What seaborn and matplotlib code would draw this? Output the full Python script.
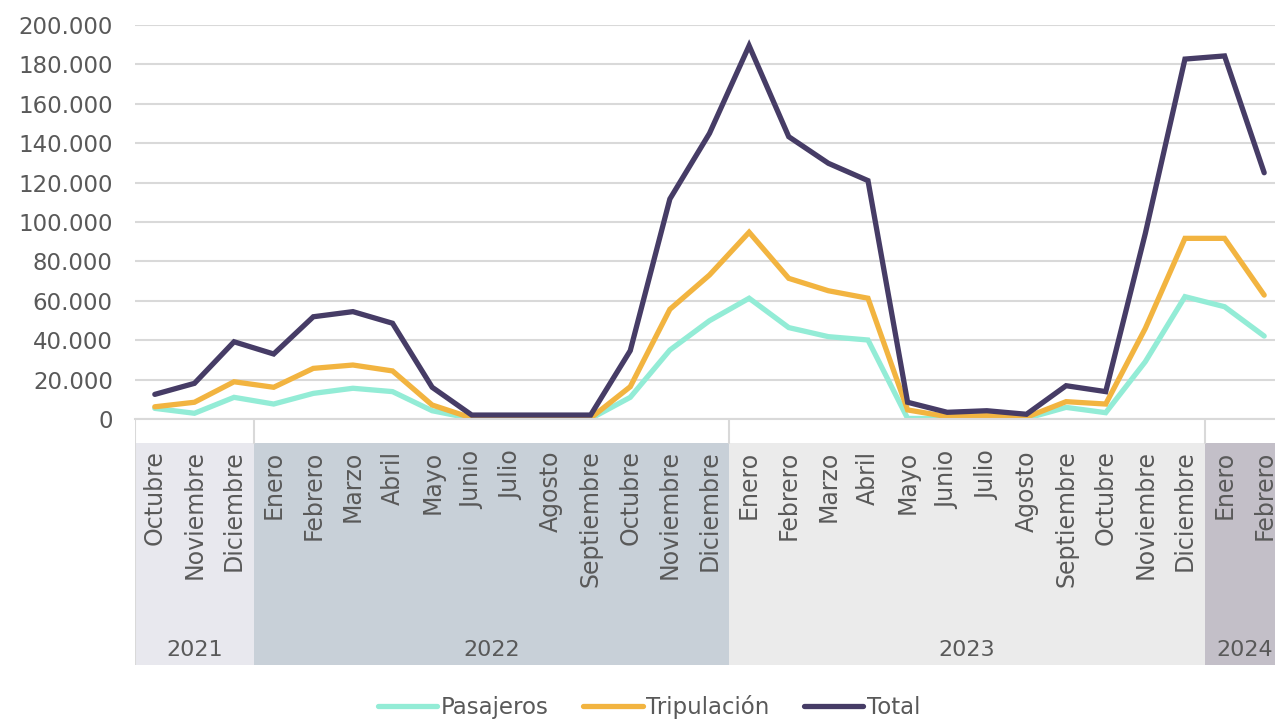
import matplotlib
matplotlib.use("Agg")
import matplotlib.pyplot as plt
import matplotlib.ticker as ticker
import numpy as np
import pandas as pd
import seaborn as sns

# ─── Data ─────────────────────────────────────────────────────────────────────
MONTHS = ["Octubre", "Noviembre", "Diciembre",
          "Enero", "Febrero", "Marzo", "Abril", "Mayo", "Junio", "Julio",
          "Agosto", "Septiembre", "Octubre", "Noviembre", "Diciembre",
          "Enero", "Febrero", "Marzo", "Abril", "Mayo", "Junio", "Julio",
          "Agosto", "Septiembre", "Octubre", "Noviembre", "Diciembre",
          "Enero", "Febrero"]
YEARS = ["2021", "2022", "2023", "2024"]
YEAR_SPANS = [(0, 2), (3, 14), (15, 26), (27, 28)]

pasajeros = [5400, 2900, 11000, 7600, 13000, 15600, 13900, 4200, 200, 200,
             200, 200, 11000, 35000, 49900, 61300, 46400, 41800, 40100, 300,
             200, 500, 300, 5900, 3200, 29100, 62100, 57000, 42100]
tripulacion = [6200, 8500, 18900, 16100, 25700, 27400, 24400, 7100, 500, 500,
               500, 500, 16400, 55700, 73100, 94800, 71400, 65100, 61300, 4600,
               1200, 1700, 900, 8800, 7600, 46000, 91700, 91700, 62900]
total = [12500, 18100, 39200, 33000, 51900, 54500, 48600, 16100, 2000, 2000,
         2000, 2000, 34700, 111700, 145000, 189500, 143300, 129800, 121000, 8500,
         3400, 4200, 2400, 16900, 13900, 94200, 182700, 184300, 125000]

SERIES = ["Pasajeros", "Tripulación", "Total"]

# ─── Style ────────────────────────────────────────────────────────────────────
TEXT = "#595959"
GRID = "#d9d9d9"
COLORS = {"Pasajeros": "#93ecd6", "Tripulación": "#f2b440", "Total": "#463c66"}
BAND_COLORS = ["#e8e8ee", "#c8d0d8", "#ebebeb", "#c3bfc8"]
FS = 16

sns.set_theme(style="white")
plt.rcParams["font.family"] = ["DejaVu Sans"]

W, H = 1275, 719
fig = plt.figure(figsize=(W / 100, H / 100), dpi=100)

# axes geometry in pixels
left_px, right_px = 135, 1284
top_px, zero_px = 25, 419
band_top_px, band_bot_px = 443, 665

ax = fig.add_axes([left_px / W, 1 - zero_px / H,
                   (right_px - left_px) / W, (zero_px - top_px) / H])

df = pd.DataFrame({
    "idx": np.tile(np.arange(len(MONTHS)), 3),
    "value": pasajeros + tripulacion + total,
    "serie": np.repeat(SERIES, len(MONTHS)),
})

sns.lineplot(data=df, x="idx", y="value", hue="serie", hue_order=SERIES,
             palette=COLORS, linewidth=3.8, ax=ax, legend=False, sort=False)
for line in ax.lines:
    line.set_solid_capstyle("round")
    line.set_solid_joinstyle("miter")

ax.set_xlim(-0.5, len(MONTHS) - 0.5)
ax.set_ylim(0, 200000)
ax.yaxis.set_major_locator(ticker.MultipleLocator(20000))
ax.yaxis.set_major_formatter(
    ticker.FuncFormatter(lambda v, _: f"{int(v):,}".replace(",", ".")))
ax.set_xticks([])
ax.set_xlabel("")
ax.set_ylabel("")
ax.tick_params(axis="y", length=0, pad=16, labelsize=FS + 0.5, labelcolor=TEXT)
ax.grid(axis="y", color=GRID, linewidth=1.5)
ax.set_axisbelow(True)
for s in ["top", "right", "left"]:
    ax.spines[s].set_visible(False)
ax.spines["bottom"].set_color(GRID)
ax.spines["bottom"].set_linewidth(1.5)

# ─── Category (month / year) axis ─────────────────────────────────────────────
cax = fig.add_axes([left_px / W, 1 - band_bot_px / H,
                    (right_px - left_px) / W, (band_bot_px - zero_px) / H])
cax.set_xlim(ax.get_xlim())
cax.set_ylim(0, 1)
cax.axis("off")
band_top = (band_bot_px - band_top_px) / (band_bot_px - zero_px)

for (start, end), year, color in zip(YEAR_SPANS, YEARS, BAND_COLORS):
    cax.axvspan(start - 0.5, end + 0.5, ymin=0, ymax=band_top,
                color=color, lw=0)
    cax.text((start + end) / 2, 0.06, year, ha="center", va="center",
             fontsize=FS, color=TEXT)

for xb in [-0.5, 2.5, 14.5, 26.5]:
    cax.axvline(xb, ymin=0 if xb == -0.5 else band_top, ymax=1,
                color=GRID, lw=1.5)

for i, m in enumerate(MONTHS):
    cax.text(i, band_top - 0.03, m, rotation=90, ha="center", va="top",
             fontsize=FS + 1, color=TEXT)

# ─── Legend ───────────────────────────────────────────────────────────────────
handles = [plt.Line2D([], [], color=COLORS[s], lw=3.8, solid_capstyle="round")
           for s in SERIES]
fig.legend(handles, SERIES, loc="center", bbox_to_anchor=(0.509, 1 - 707 / H),
           ncol=3, frameon=False, fontsize=FS + 0.5, labelcolor=TEXT,
           handlelength=2.6, handletextpad=0.15, columnspacing=1.5)

fig.savefig("out.png", dpi=100, facecolor="white")
